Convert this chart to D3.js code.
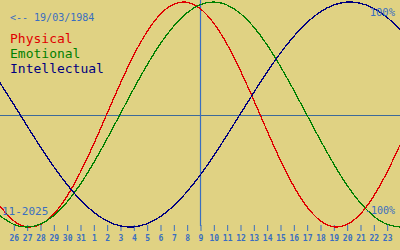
<!DOCTYPE html>
<html>
<head>
<meta charset="utf-8">
<script src="https://cdn.jsdelivr.net/npm/d3@7"></script>
<style>
  html, body { margin: 0; padding: 0; background: #e0d283; }
  svg { display: block; }
  text { font-family: "DejaVu Sans Mono", "Liberation Mono", monospace; }
</style>
</head>
<body>
<div id="chart"></div>
<script>
const width = 400;
const height = 250;

// day labels along the bottom (Oct 26 .. Nov 23)
const dayLabels = ['26', '27', '28', '29', '30', '31', '1', '2', '3', '4', '5', '6', '7', '8', '9',
  '10', '11', '12', '13', '14', '15', '16', '17', '18', '19', '20', '21', '22', '23'];

// curve samples, one per day from Oct 25 to Nov 24 (index -1 .. 29)
const physical = [-0.817, -0.942, -0.998, -0.979, -0.888, -0.731, -0.520, -0.270, 0, 0.270, 0.520,
  0.731, 0.888, 0.979, 0.998, 0.942, 0.817, 0.631, 0.398, 0.136, -0.136, -0.398, -0.631, -0.817,
  -0.942, -0.998, -0.979, -0.888, -0.731, -0.520, -0.270];
const emotional = [-0.901, -0.975, -1, -0.975, -0.901, -0.782, -0.624, -0.434, -0.223, 0, 0.223,
  0.434, 0.624, 0.782, 0.901, 0.975, 1, 0.975, 0.901, 0.782, 0.624, 0.434, 0.223, 0, -0.223,
  -0.434, -0.624, -0.782, -0.901, -0.975, -1];
const intellectual = [0.282, 0.095, -0.095, -0.282, -0.458, -0.618, -0.756, -0.866, -0.945, -0.990,
  -0.999, -0.972, -0.910, -0.815, -0.690, -0.541, -0.372, -0.189, 0, 0.189, 0.372, 0.541, 0.690,
  0.815, 0.910, 0.972, 0.999, 0.990, 0.945, 0.866, 0.756];

const series = [
  {name: 'Physical', values: physical, color: '#e00000'},
  {name: 'Emotional', values: emotional, color: '#008000'},
  {name: 'Intellectual', values: intellectual, color: '#000080'}
];

const birthText = '<-- 19/03/1984';
const monthText = '11-2025';
const todayIndex = 14;   // the 9th

const blue = '#3a6ec0';

const x = d3.scaleLinear().domain([-1, dayLabels.length]).range([0, width]);
const y = d3.scaleLinear().domain([-1, 1]).range([227, 2]);

const svg = d3.select('#chart').append('svg')
  .attr('width', width)
  .attr('height', height);

svg.append('rect')
  .attr('width', width)
  .attr('height', height)
  .attr('fill', '#e0d283');

// zero line
svg.append('line')
  .attr('x1', 0).attr('x2', width)
  .attr('y1', Math.round(y(0)) + 0.5).attr('y2', Math.round(y(0)) + 0.5)
  .attr('stroke', '#3d6a9a')
  .attr('stroke-width', 1);

// today line
svg.append('line')
  .attr('x1', Math.round(x(todayIndex)) + 0.5).attr('x2', Math.round(x(todayIndex)) + 0.5)
  .attr('y1', 0).attr('y2', 226)
  .attr('stroke', blue)
  .attr('stroke-width', 1.2);

// day axis
const xAxis = d3.axisBottom(x)
  .tickValues(d3.range(dayLabels.length))
  .tickFormat(i => dayLabels[i])
  .tickSize(6)
  .tickSizeOuter(0);

const axisG = svg.append('g')
  .attr('transform', 'translate(0.5,225)')
  .call(xAxis);
axisG.select('.domain').remove();
axisG.selectAll('.tick line').attr('stroke', blue);
axisG.selectAll('.tick text')
  .attr('y', 16)
  .attr('dy', 0)
  .attr('fill', blue)
  .style('font-size', '8px')
  .style('font-weight', 'bold')
  .style('font-family', '"DejaVu Sans Mono", monospace');

// curves
const line = d3.line()
  .x((d, i) => x(i - 1))
  .y(d => y(d))
  .curve(d3.curveNatural);

series.forEach(s => {
  svg.append('path')
    .datum(s.values)
    .attr('d', line)
    .attr('fill', 'none')
    .attr('stroke', s.color)
    .attr('stroke-width', 1.3)
    .attr('shape-rendering', 'crispEdges');
});

// texts
svg.append('text')
  .attr('x', 10).attr('y', 21)
  .attr('fill', blue)
  .style('font-size', '10px')
  .text(birthText);

series.forEach((s, i) => {
  svg.append('text')
    .attr('x', 10).attr('y', 43 + i * 15)
    .attr('fill', s.color)
    .style('font-size', '13px')
    .text(s.name);
});

svg.append('text')
  .attr('x', 395).attr('y', 16)
  .attr('text-anchor', 'end')
  .attr('fill', blue)
  .style('font-size', '10.5px')
  .text('100%');

svg.append('text')
  .attr('x', 395).attr('y', 214)
  .attr('text-anchor', 'end')
  .attr('fill', blue)
  .style('font-size', '10px')
  .text('-100%');

svg.append('text')
  .attr('x', 2).attr('y', 215)
  .attr('fill', blue)
  .style('font-size', '11px')
  .text(monthText);
</script>
</body>
</html>
